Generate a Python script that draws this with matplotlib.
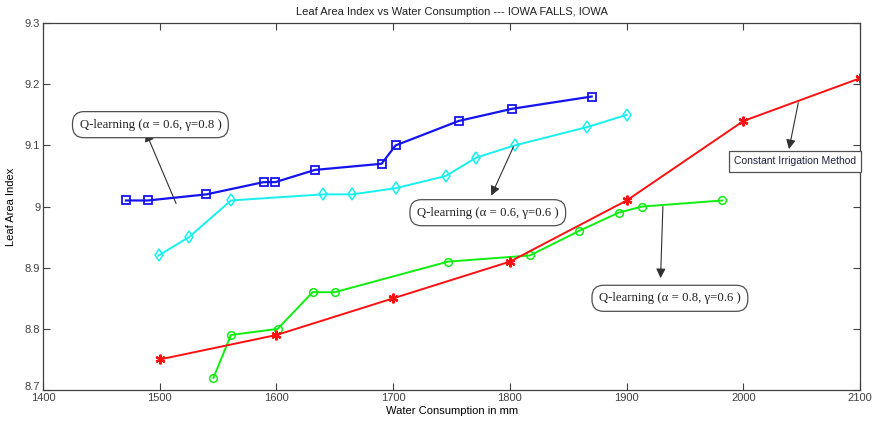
import matplotlib.pyplot as plt
import matplotlib.transforms as mtransforms

# Q-learning (alpha = 0.6, gamma = 0.8)
ql_68_x = [1471, 1490, 1540, 1589, 1599, 1633, 1690, 1702, 1756, 1802, 1870]
ql_68_y = [9.01, 9.01, 9.02, 9.04, 9.04, 9.06, 9.07, 9.10, 9.14, 9.16, 9.18]

# Q-learning (alpha = 0.6, gamma = 0.6)
ql_66_x = [1499, 1525, 1561, 1640, 1665, 1702, 1745, 1771, 1804, 1866, 1900]
ql_66_y = [8.92, 8.95, 9.01, 9.02, 9.02, 9.03, 9.05, 9.08, 9.10, 9.13, 9.15]

# Q-learning (alpha = 0.8, gamma = 0.6)
ql_86_x = [1546, 1561, 1601, 1631, 1650, 1747, 1817, 1859, 1893, 1913, 1982]
ql_86_y = [8.72, 8.79, 8.80, 8.86, 8.86, 8.91, 8.92, 8.96, 8.99, 9.00, 9.01]

# constant irrigation
const_x = [1500, 1600, 1700, 1800, 1900, 2000, 2100]
const_y = [8.75, 8.79, 8.85, 8.91, 9.01, 9.14, 9.21]

x_ticks = [1400, 1500, 1600, 1700, 1800, 1900, 2000, 2100]
y_ticks = [8.7, 8.8, 8.9, 9.0, 9.1, 9.2, 9.3]
y_ticklabels = ['8.7', '8.8', '8.9', '9', '9.1', '9.2', '9.3']

plt.rcParams['font.family'] = ['Liberation Sans', 'DejaVu Sans']

fig = plt.figure(figsize=(8.74, 4.21), dpi=100)
ax = fig.add_axes([0.0492, 0.0736, 0.935, 0.8714])

ax.plot(ql_68_x, ql_68_y, color='#1414f0', lw=1.6, marker='s', ms=5.5,
        mfc='none', mew=1.3)
ax.plot(ql_66_x, ql_66_y, color='#18f0f0', lw=1.4, marker='d', ms=6,
        mfc='none', mew=1.1)
ax.plot(ql_86_x, ql_86_y, color='#10ee10', lw=1.4, marker='o', ms=5.5,
        mfc='none', mew=1.1)
ax.plot(const_x, const_y, color='#ff1010', lw=1.4, marker=(6, 2, 0), ms=7,
        mew=1.6)

ax.set_xlim(1400, 2100)
ax.set_ylim(8.7, 9.3)
ax.set_xticks(x_ticks)
ax.set_yticks(y_ticks)
ax.set_yticklabels(y_ticklabels)
ax.tick_params(direction='in', top=True, right=True, length=5, width=0.8,
               labelsize=8, colors='#404040', pad=2)
for s in ax.spines.values():
    s.set_color('#404040')
    s.set_linewidth(0.9)

# lift the lowest y label a little so it clears the first x label
lift = mtransforms.ScaledTranslation(0, 3 / 72, fig.dpi_scale_trans)
lowest = ax.get_yticklabels()[0]
lowest.set_transform(lowest.get_transform() + lift)

ax.set_title('Leaf Area Index vs Water Consumption --- IOWA FALLS, IOWA',
             fontsize=8, pad=6, color='#202020')
ax.set_xlabel('Water Consumption in mm', fontsize=8, labelpad=2)
ax.set_ylabel('Leaf Area Index', fontsize=8, labelpad=6)

round_box = dict(boxstyle='round,pad=0.55,rounding_size=0.9', fc='white',
                 ec='#505050', lw=0.9)
square_box = dict(boxstyle='square,pad=0.5', fc='white', ec='#505050', lw=0.9)
arrow = dict(arrowstyle='-|>', color='#303030', lw=0.8, mutation_scale=14,
             shrinkA=0, shrinkB=0)
label_font = dict(family='Liberation Serif', fontsize=9.2, color='#202020')

# arrows point from each curve to its label
ax.annotate('', xy=(1488, 9.122), xytext=(1514, 9.005), arrowprops=arrow)
ax.text(1492, 9.134, 'Q-learning (α = 0.6, γ=0.8 )', ha='center',
        va='center', bbox=round_box, **label_font)

ax.annotate('', xy=(1784, 9.018), xytext=(1803, 9.098), arrowprops=arrow)
ax.text(1781, 8.99, 'Q-learning (α = 0.6, γ=0.6 )', ha='center',
        va='center', bbox=round_box, **label_font)

ax.annotate('', xy=(1929, 8.883), xytext=(1931, 9.0), arrowprops=arrow)
ax.text(1937, 8.85, 'Q-learning (α = 0.8, γ=0.6 )', ha='center',
        va='center', bbox=round_box, **label_font)

ax.annotate('', xy=(2039, 9.094), xytext=(2047, 9.17), arrowprops=arrow)
ax.text(2044, 9.074, 'Constant Irrigation Method', ha='center',
        va='center', bbox=square_box, fontsize=7.5, color='#202040')

fig.savefig('out.png', dpi=100)
